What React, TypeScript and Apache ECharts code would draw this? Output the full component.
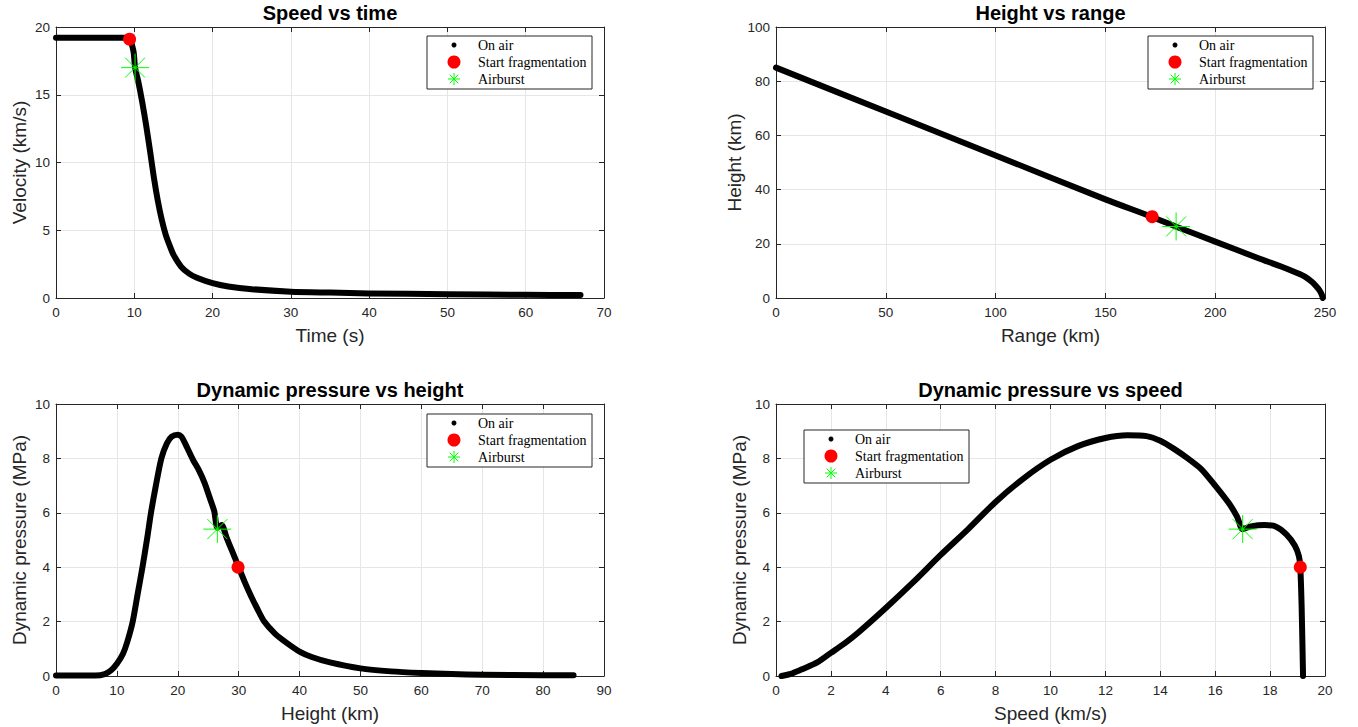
import React, { useEffect, useRef } from "react";
import * as echarts from "echarts";

// ---- Data ----
// Speed vs time
const timeS = [0, 8.7, 9.4, 9.9, 10.1, 10.5, 11, 11.5, 12, 12.5, 13, 13.5, 14, 14.5, 15, 16, 17, 18, 20, 22, 25, 30, 35, 40, 50, 60, 67];
const velocityKms = [19.2, 19.2, 19.1, 18.2, 17.0, 16.0, 14.5, 12.8, 10.9, 8.9, 7.2, 5.8, 4.7, 3.9, 3.2, 2.3, 1.8, 1.5, 1.1, 0.85, 0.65, 0.47, 0.4, 0.34, 0.28, 0.24, 0.22];
const fragSpeedTime = [9.4, 19.1];
const burstSpeedTime = [10.1, 17.0];

// Height vs range
const rangeKm = [0, 50, 100, 150, 171, 182, 200, 220, 230, 237, 241, 244, 246, 247.5, 248.5, 249];
const heightKm = [85, 68.8, 52.6, 36.4, 30, 26.4, 20.8, 14.6, 11.6, 9.3, 7.8, 6.0, 4.3, 2.8, 1.3, 0];
const fragHeightRange = [171.3, 30];
const burstHeightRange = [182.2, 26.4];

// Dynamic pressure vs height
const heightQ = [0, 6.5, 8, 9, 10, 11, 11.7, 12.6, 13.4, 14.2, 15, 15.6, 16.4, 17.3, 18.2, 19, 20, 20.6, 21.2, 22.5, 23.5, 24.4, 25.4, 26, 26.5, 27.2, 28, 29, 30, 31, 32, 33, 34.2, 36, 38, 40, 42, 45, 50, 55, 60, 65, 70, 80, 85];
const pressureH = [0.02, 0.02, 0.07, 0.2, 0.45, 0.82, 1.25, 2.0, 3.0, 4.0, 5.1, 6.0, 7.0, 8.0, 8.55, 8.8, 8.87, 8.8, 8.55, 7.95, 7.55, 7.1, 6.45, 6.05, 5.45, 5.55, 5.1, 4.55, 4.0, 3.45, 2.95, 2.5, 2.0, 1.55, 1.2, 0.9, 0.7, 0.5, 0.28, 0.17, 0.11, 0.07, 0.05, 0.03, 0.03];
const fragPressureHeight = [29.9, 4.0];
const burstPressureHeight = [26.5, 5.4];

// Dynamic pressure vs speed
const speedQ = [0.2, 0.6, 1, 1.5, 2, 2.5, 3, 4, 5, 6, 7, 8, 9, 10, 11, 12, 12.8, 13.5, 14, 14.5, 15, 15.5, 16, 16.5, 16.8, 17, 17.3, 17.8, 18.2, 18.6, 18.9, 19.05, 19.1, 19.15, 19.2];
const pressureV = [0, 0.1, 0.27, 0.5, 0.85, 1.2, 1.6, 2.5, 3.45, 4.45, 5.4, 6.4, 7.25, 7.95, 8.45, 8.75, 8.85, 8.82, 8.65, 8.35, 8.0, 7.6, 7.0, 6.35, 5.85, 5.4, 5.5, 5.55, 5.5, 5.2, 4.8, 4.4, 4.0, 2.5, 0];
const fragPressureSpeed = [19.1, 4.0];
const burstPressureSpeed = [17.0, 5.4];

const titles = ["Speed vs time", "Height vs range", "Dynamic pressure vs height", "Dynamic pressure vs speed"];
const xNames = ["Time (s)", "Range (km)", "Height (km)", "Speed (km/s)"];
const yNames = ["Velocity (km/s)", "Height (km)", "Dynamic pressure (MPa)", "Dynamic pressure (MPa)"];
const legendNames = ["On air", "Start fragmentation", "Airburst"];

const zip = (a: number[], b: number[]) => a.map((v, i) => [v, b[i]]);

const SANS = '"Liberation Sans", Arial, Helvetica, sans-serif';
const SERIF = '"Liberation Serif", "Times New Roman", serif';
const AX = "#262626";
const GRIDC = "#e6e6e6";
const STAR = "path://M0,-14L0,14M-14,0L14,0M-10,-10L10,10M-10,10L10,-10";

const grids = [
  { left: 56, top: 27, width: 548, height: 271 },
  { left: 776, top: 27, width: 549, height: 271 },
  { left: 56, top: 404, width: 548, height: 272 },
  { left: 776, top: 404, width: 549, height: 272 },
];
const xRanges = [[0, 70, 10], [0, 250, 50], [0, 90, 10], [0, 20, 2]];
const yRanges = [[0, 20, 5], [0, 100, 20], [0, 10, 2], [0, 10, 2]];
const curves = [zip(timeS, velocityKms), zip(rangeKm, heightKm), zip(heightQ, pressureH), zip(speedQ, pressureV)];
const frags = [fragSpeedTime, fragHeightRange, fragPressureHeight, fragPressureSpeed];
const bursts = [burstSpeedTime, burstHeightRange, burstPressureHeight, burstPressureSpeed];
const legendPos = [[427, 36], [1148, 36], [427, 414], [804, 430]];

function buildOption() {
  const xAxis: any[] = [];
  const yAxis: any[] = [];
  const series: any[] = [];
  const title: any[] = [];
  const graphic: any[] = [];

  grids.forEach((g, i) => {
    const [xmin, xmax, xi] = xRanges[i];
    const [ymin, ymax, yi] = yRanges[i];
    const tick = { show: true, inside: true, length: 5, lineStyle: { color: AX, width: 1 } };
    const line = { show: true, onZero: false, lineStyle: { color: AX, width: 1 } };
    xAxis.push({
      type: "value", gridIndex: i, min: xmin, max: xmax, interval: xi, position: "bottom",
      name: xNames[i], nameLocation: "middle", nameGap: 28,
      nameTextStyle: { fontSize: 19, color: AX, fontFamily: SANS },
      axisLine: line, axisTick: tick,
      axisLabel: { margin: 7, fontSize: 13.5, color: AX, fontFamily: SANS },
      splitLine: { show: true, lineStyle: { color: GRIDC, width: 1 } },
    });
    xAxis.push({
      type: "value", gridIndex: i, min: xmin, max: xmax, interval: xi, position: "top",
      axisLine: line, axisTick: tick, axisLabel: { show: false }, splitLine: { show: false },
    });
    yAxis.push({
      type: "value", gridIndex: i, min: ymin, max: ymax, interval: yi, position: "left",
      name: yNames[i], nameLocation: "middle", nameGap: 27,
      nameTextStyle: { fontSize: 19, color: AX, fontFamily: SANS },
      axisLine: line, axisTick: tick,
      axisLabel: { margin: 6, fontSize: 13.5, color: AX, fontFamily: SANS },
      splitLine: { show: true, lineStyle: { color: GRIDC, width: 1 } },
    });
    yAxis.push({
      type: "value", gridIndex: i, min: ymin, max: ymax, interval: yi, position: "right",
      axisLine: line, axisTick: tick, axisLabel: { show: false }, splitLine: { show: false },
    });

    series.push({
      name: legendNames[0], type: "line", xAxisIndex: 2 * i, yAxisIndex: 2 * i,
      data: curves[i], showSymbol: false, symbol: "none",
      smooth: 0.25,
      lineStyle: { color: "#000", width: 6, cap: "round", join: "round" },
      z: 2,
    });
    series.push({
      name: legendNames[1], type: "scatter", xAxisIndex: 2 * i, yAxisIndex: 2 * i,
      data: [frags[i]], symbol: "circle", symbolSize: 13,
      itemStyle: { color: "#ff0000", opacity: 1 }, z: 3,
    });
    series.push({
      name: legendNames[2], type: "scatter", xAxisIndex: 2 * i, yAxisIndex: 2 * i,
      data: [bursts[i]], symbol: STAR, symbolSize: 28,
      itemStyle: { color: "rgba(0,0,0,0)", borderColor: "#00ff00", borderWidth: 1, opacity: 1 }, z: 4,
    });
    series.push({
      name: legendNames[2] + " centre", type: "scatter", xAxisIndex: 2 * i, yAxisIndex: 2 * i,
      data: [bursts[i]], symbol: "circle", symbolSize: 3,
      itemStyle: { color: "#00dd00", opacity: 1 }, z: 5,
    });

    title.push({
      text: titles[i], left: g.left + g.width / 2, top: g.top - 24, textAlign: "center", padding: 0,
      textStyle: { fontSize: 20, fontWeight: "bold", color: "#000", fontFamily: SANS },
    });

    const [lx, ly] = legendPos[i];
    const rows = [9, 26, 43];
    const ax = 27;
    const ar = 6;
    const ad = 4.3;
    const Z = 100;
    const children: any[] = [
      { type: "rect", z: Z, shape: { x: 0, y: 0, width: 165, height: 53 }, style: { fill: "#fff", stroke: AX, lineWidth: 1 } },
      { type: "circle", z: Z + 1, shape: { cx: ax, cy: rows[0], r: 2.5 }, style: { fill: "#000" } },
      { type: "circle", z: Z + 1, shape: { cx: ax, cy: rows[1], r: 6.5 }, style: { fill: "#ff0000" } },
      { type: "line", z: Z + 1, shape: { x1: ax, y1: rows[2] - ar, x2: ax, y2: rows[2] + ar }, style: { stroke: "#00ff00", lineWidth: 1 } },
      { type: "line", z: Z + 1, shape: { x1: ax - ar, y1: rows[2], x2: ax + ar, y2: rows[2] }, style: { stroke: "#00ff00", lineWidth: 1 } },
      { type: "line", z: Z + 1, shape: { x1: ax - ad, y1: rows[2] - ad, x2: ax + ad, y2: rows[2] + ad }, style: { stroke: "#00ff00", lineWidth: 1 } },
      { type: "line", z: Z + 1, shape: { x1: ax - ad, y1: rows[2] + ad, x2: ax + ad, y2: rows[2] - ad }, style: { stroke: "#00ff00", lineWidth: 1 } },
    ];
    legendNames.forEach((n, k) => {
      children.push({
        type: "text", z: Z + 1, x: 51, y: rows[k],
        style: {
          text: n, fill: "#000", fontSize: 14, fontFamily: SERIF,
          textAlign: "left", textVerticalAlign: "middle", align: "left", verticalAlign: "middle",
        },
      });
    });
    graphic.push({ type: "group", x: lx, y: ly, z: Z, children });
  });

  return {
    animation: false,
    backgroundColor: "#fff",
    grid: grids.map((g) => ({ ...g, containLabel: false })),
    title,
    xAxis,
    yAxis,
    series,
    graphic,
  };
}

export default function App() {
  const ref = useRef<HTMLDivElement>(null);
  useEffect(() => {
    const chart = echarts.init(ref.current!, null, { renderer: "svg" });
    chart.setOption(buildOption() as any);
    return () => chart.dispose();
  }, []);
  return (
    <div
      ref={ref}
      style={{ position: "fixed", left: 0, top: 0, width: 1358, height: 727, background: "#fff" }}
    />
  );
}
